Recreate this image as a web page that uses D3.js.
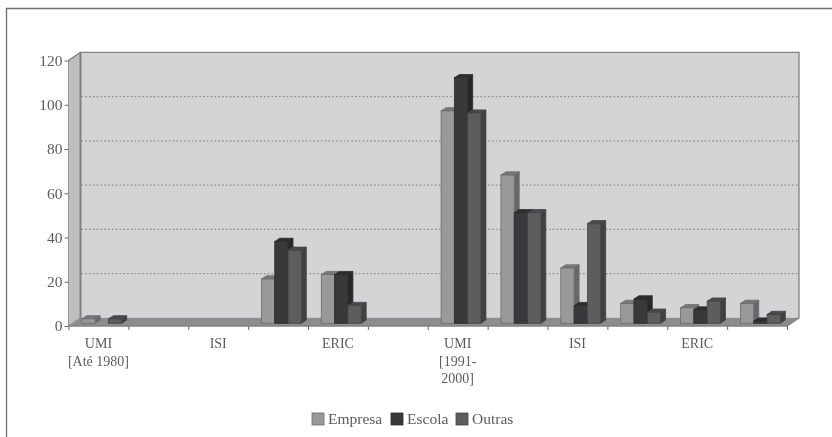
<!DOCTYPE html>
<html>
<head>
<meta charset="utf-8">
<script src="https://cdn.jsdelivr.net/npm/d3@7"></script>
<style>
  html, body { margin: 0; padding: 0; background: #fff; }
  svg { display: block; filter: blur(0.45px); }
  text { font-family: "Liberation Serif", serif; fill: #5c5c5e; }
</style>
</head>
<body>
<svg id="chart"></svg>
<script>
const categories = [
  ["UMI", "[Até 1980]"], [], ["ISI"], [], ["ERIC"], [],
  ["UMI", "[1991-", "2000]"], [], ["ISI"], [], ["ERIC"], []
];
const seriesNames = ["Empresa", "Escola", "Outras"];
const empresa = [2, 0, 0, 20, 22, 0, 96, 67, 25, 9, 7, 9];
const escola = [0, 0, 0, 37, 22, 0, 111, 50, 8, 11, 6, 1];
const outras = [2, 0, 0, 33, 8, 0, 95, 50, 45, 5, 10, 4];
const yTicks = [0, 20, 40, 60, 80, 100, 120];

const seriesValues = [empresa, escola, outras];
const frontColor = ["#98999b", "#38393b", "#5c5d5f"];
const sideColor = ["#67686a", "#28282a", "#404143"];
const topColor = ["#77787a", "#2e2e30", "#48494b"];
const edgeColor = ["#6a6b6d", "#2b2b2d", "#434446"];

const width = 832, height = 437;
const left = 68.5, right = 787, zero = 326, top120 = 60.5;
const depthX = 12, depthY = 8.2; // offset of the back wall
const barDepthX = 5, barDepthY = 3.2, barLift = 2.7;

const svg = d3.select("#chart").attr("width", width).attr("height", height);

const xScale = d3.scaleBand().domain(d3.range(categories.length)).range([left, right]);
const xInner = d3.scaleBand().domain(d3.range(3)).range([13.3, 53.2]);
const xTicks = d3.scaleLinear().domain([0, categories.length]).range([left, right]);
const yScale = d3.scaleLinear().domain([0, 120]).range([zero, top120]);

const poly = (pts) => d3.line()(pts) + "Z";

// page frame
svg.append("path")
  .attr("d", `M6.5,${height}V8.5H${width}`)
  .attr("fill", "none").attr("stroke", "#6f6f71").attr("stroke-width", 1.3);

// =========== walls and floor =========== //
const backL = left + depthX, backR = right + depthX;
const backTop = top120 - depthY, backBottom = zero - depthY;

svg.append("rect")
  .attr("x", backL).attr("y", backTop)
  .attr("width", backR - backL).attr("height", backBottom - backTop)
  .attr("fill", "#d3d4d6");

svg.append("path")
  .attr("d", poly([[left, top120], [backL, backTop], [backL, backBottom], [left, zero]]))
  .attr("fill", "#bdbec0").attr("stroke", "#808183").attr("stroke-width", 0.8);

svg.append("path")
  .attr("d", poly([[left, zero], [backL, backBottom], [backR, backBottom], [right, zero]]))
  .attr("fill", "#8c8d8f");

svg.append("path")
  .attr("d", `M${left},${top120}L${backL},${backTop}H${backR}V${backBottom}L${right},${zero}H${left}`)
  .attr("fill", "none").attr("stroke", "#808183").attr("stroke-width", 1.3);

svg.append("line")
  .attr("x1", backL).attr("x2", backL).attr("y1", backTop).attr("y2", backBottom)
  .attr("stroke", "#808183").attr("stroke-width", 2);

// dotted grid on the back wall
svg.append("g")
  .selectAll("line")
  .data(yTicks.filter((d) => d > 0 && d < 120))
  .join("line")
  .attr("x1", backL + 1).attr("x2", backR)
  .attr("y1", (d) => yScale(d) - depthY)
  .attr("y2", (d) => yScale(d) - depthY)
  .attr("stroke", "#8a8b8d").attr("stroke-width", 1.2).attr("stroke-dasharray", "1.6,2.2");

// =========== bars =========== //
const barWidth = xInner.bandwidth();
const bars = svg.append("g");

categories.forEach((c, i) => {
  seriesValues.forEach((values, s) => {
    const v = values[i];
    if (!v) return;
    const x0 = xScale(i) + xInner(s), x1 = x0 + barWidth;
    const y0 = yScale(0) - barLift, y1 = yScale(v) - barLift;
    const g = bars.append("g").attr("stroke", edgeColor[s]).attr("stroke-width", 0.8);

    g.append("path")
      .attr("d", poly([[x1, y0], [x1 + barDepthX, y0 - barDepthY], [x1 + barDepthX, y1 - barDepthY], [x1, y1]]))
      .attr("fill", sideColor[s]);
    g.append("path")
      .attr("d", poly([[x0, y1], [x0 + barDepthX, y1 - barDepthY], [x1 + barDepthX, y1 - barDepthY], [x1, y1]]))
      .attr("fill", topColor[s]);
    g.append("rect")
      .attr("x", x0).attr("y", y1)
      .attr("width", barWidth).attr("height", y0 - y1)
      .attr("fill", frontColor[s]);
  });
});

// =========== axes =========== //
const yAxis = svg.append("g")
  .attr("transform", `translate(${left},0)`)
  .call(d3.axisLeft(yScale).tickValues(yTicks).tickSize(4).tickPadding(2));
yAxis.select(".domain").remove();
yAxis.selectAll("line").attr("stroke", "#6a6a6c");
yAxis.selectAll("text").attr("font-size", 15.5).attr("font-family", "Liberation Serif").attr("fill", "#5c5c5e");

const xAxis = svg.append("g")
  .attr("transform", `translate(0,${zero})`)
  .call(d3.axisBottom(xTicks).ticks(categories.length).tickSize(4).tickFormat(""));
xAxis.select(".domain").remove();
xAxis.selectAll("line").attr("stroke", "#6a6a6c");

svg.append("g")
  .selectAll("text")
  .data(categories)
  .join("text")
  .attr("text-anchor", "middle")
  .attr("font-size", 14)
  .attr("transform", (d, i) => `translate(${xScale(i) + xScale.bandwidth() / 2},348)`)
  .selectAll("tspan")
  .data((d) => d)
  .join("tspan")
  .attr("x", 0)
  .attr("y", (d, i) => i * 17.7)
  .text((d) => d);

// =========== legend =========== //
const legendX = [312, 391, 456];
const legend = svg.append("g")
  .selectAll("g")
  .data(seriesNames)
  .join("g")
  .attr("transform", (d, i) => `translate(${legendX[i]},413)`);

legend.append("rect")
  .attr("width", 12).attr("height", 12)
  .attr("fill", (d, i) => frontColor[i])
  .attr("stroke", (d, i) => edgeColor[i]).attr("stroke-width", 0.8);

legend.append("text")
  .attr("x", 16).attr("y", 11)
  .attr("font-size", 15.5)
  .text((d) => d);
</script>
</body>
</html>
